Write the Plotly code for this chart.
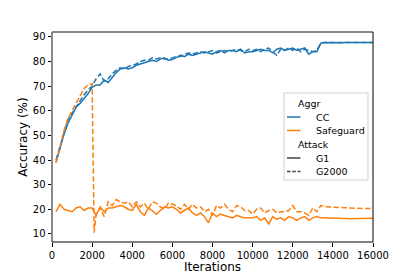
import plotly.graph_objects as go

iters = [200, 400, 600, 800, 1000, 1200, 1400, 1600, 1800, 2000,
         2200, 2400, 2600, 2800, 3000, 3200, 3400, 3600, 3800, 4000,
         4200, 4400, 4600, 4800, 5000, 5200, 5400, 5600, 5800, 6000,
         6200, 6400, 6600, 6800, 7000, 7200, 7400, 7600, 7800, 8000,
         8200, 8400, 8600, 8800, 9000, 9200, 9400, 9600, 9800, 10000,
         10200, 10400, 10600, 10800, 11000, 11200, 11400, 11600, 11800, 12000,
         12200, 12400, 12600, 12800, 13000, 13200, 13400, 13600, 13800, 14000,
         14200, 14400, 14600, 14800, 15000, 15200, 15400, 15600, 15800, 16000]

cc_g1 = [39, 45, 50.5, 55, 58, 61.5, 63, 65, 67, 69.5,
         70.5, 70.5, 72.5, 71.5, 73.5, 75.5, 77, 77.5, 77, 77.5,
         78.5, 79, 79.5, 80, 80.5, 80, 81, 81.5, 80.5, 80.8,
         81.5, 82.5, 82, 83, 82.5, 83, 83.5, 84, 83.5, 83,
         84, 84.5, 83.5, 84.5, 84.5, 84, 85, 83.5, 84, 84,
         84.5, 85, 84.5, 84.5, 83.5, 85, 85.5, 84.5, 85, 85.5,
         84.5, 85, 85.5, 83, 84, 84, 87.5, 87.7, 87.6, 87.7,
         87.7, 87.6, 87.7, 87.7, 87.6, 87.7, 87.7, 87.6, 87.7, 87.7]

cc_g2000 = [40, 46, 51, 56.5, 59, 62, 64, 66.5, 68.5, 70,
            73, 75, 72, 73, 75, 76.5, 77.5, 77, 78, 78.5,
            79, 80, 80.5, 80.5, 81.5, 81, 81.5, 81, 81, 81.5,
            82, 82, 83, 83.5, 83, 83.5, 84, 83.5, 84, 84.5,
            83.5, 84, 84.5, 84, 84.5, 85, 84.5, 84, 85, 84.5,
            85, 84, 85, 85.5, 84, 82.5, 85, 84.5, 85.5, 84.5,
            85.5, 84, 85, 84.5, 84, 84.5, 87.6, 87.7, 87.7, 87.6,
            87.7, 87.7, 87.8, 87.7, 87.7, 87.6, 87.7, 87.7, 87.7, 87.7]

sg_g1 = [19, 22, 20, 19.5, 19, 20.5, 21, 19.5, 20.5, 20.5,
         17.5, 21, 19, 20.5, 20.5, 21, 21.5, 21, 20, 19.5,
         22, 19, 17.5, 20.5, 19.5, 18, 19.5, 21, 20.5, 21,
         20, 18.5, 19.5, 20.5, 18.5, 17.5, 18.5, 17, 14.5, 18.5,
         17, 18, 17.5, 17, 16.5, 17.5, 17, 16.5, 16.5, 16.5,
         17, 15.5, 16.5, 14, 17, 16, 16.5, 15.5, 17, 16.5,
         15.5, 16.5, 17, 15.5, 16.5, 17, 16.5, 16.5, 16.5, 16.4,
         16.3, 16.3, 16.2, 16.1, 16.1, 16.2, 16.2, 16.2, 16.3, 16.3]

sg_g2000_x = iters[:10] + [2100] + iters[10:]
sg_g2000 = [39, 46, 52, 57, 60, 63, 66, 69, 70.5, 71,
            10.5,
            18, 20.5, 17, 23, 21.5, 24, 23, 22.5, 23, 21,
            23, 21, 22.5, 20, 23, 22.5, 21, 20, 22.5, 22,
            21.5, 20, 22, 20, 22, 20.5, 21, 19, 20, 17.5,
            21.5, 20.5, 22, 20, 19, 21.5, 21, 19.5, 19.5, 18,
            20, 20.5, 18.5, 19.5, 20, 18.5, 19, 19, 19.5, 21.5,
            19, 19, 18.5, 17.5, 20.5, 19, 21.5, 21, 21, 20.8,
            20.7, 20.7, 20.6, 20.5, 20.5, 20.4, 20.4, 20.3, 20.3, 20.3]

x_ticks = [0, 2000, 4000, 6000, 8000, 10000, 12000, 14000, 16000]
x_tick_text = ["0", "2000", "4000", "6000", "8000", "10000", "12000", "14000", "16000"]
y_ticks = [10, 20, 30, 40, 50, 60, 70, 80, 90]

legend_rows = [
    ("Aggr", None, None, True),
    ("CC", "#1f77b4", "solid", False),
    ("Safeguard", "#ff7f0e", "solid", False),
    ("Attack", None, None, True),
    ("G1", "#444444", "solid", False),
    ("G2000", "#444444", "dash", False),
]

BLUE = "#1f77b4"
ORANGE = "#ff7f0e"
DASH = "5.5px,2.4px"

W, H = 415, 277
ML, MR, MT, MB = 52, 42, 32, 35
PW, PH = W - ML - MR, H - MT - MB


def px(xp):
    return (xp - ML) / PW


def py(yp):
    return 1 - (yp - MT) / PH


fig = go.Figure()
series = [
    (iters, cc_g1, BLUE, "solid"),
    (iters, cc_g2000, BLUE, DASH),
    (iters, sg_g1, ORANGE, "solid"),
    (sg_g2000_x, sg_g2000, ORANGE, DASH),
]
for xs, ys, c, d in series:
    fig.add_trace(go.Scatter(x=xs, y=ys, mode="lines", showlegend=False,
                             line=dict(color=c, width=1.5, dash=d)))

shapes = [
    dict(type="line", xref="paper", yref="paper", x0=0, x1=1, y0=1, y1=1,
         line=dict(color="#888888", width=2)),
    dict(type="line", xref="paper", yref="paper", x0=0, x1=0, y0=0, y1=1,
         line=dict(color="#888888", width=2)),
    dict(type="line", xref="paper", yref="paper", x0=1, x1=1, y0=0, y1=1,
         line=dict(color="black", width=1)),
    dict(type="line", xref="paper", yref="paper", x0=0, x1=1, y0=0, y1=0,
         line=dict(color="black", width=1)),
    # legend box
    dict(type="rect", xref="paper", yref="paper", x0=px(284), x1=px(368),
         y0=py(180), y1=py(93), fillcolor="rgba(255,255,255,0.85)",
         line=dict(color="#d0d0d0", width=1), layer="above"),
]
annotations = []
row_y = [103, 117, 130.5, 144, 158, 171.5]
for (label, col, dsh, is_title), yy in zip(legend_rows, row_y):
    if is_title:
        annotations.append(dict(x=px(296), y=py(yy), xref="paper", yref="paper",
                                text=label, showarrow=False, xanchor="left",
                                yanchor="middle", font=dict(size=9.5)))
    else:
        shapes.append(dict(type="line", xref="paper", yref="paper",
                           x0=px(287), x1=px(300.5), y0=py(yy), y1=py(yy),
                           line=dict(color=col, width=1.5,
                                     dash=("solid" if dsh == "solid" else "3.5px,1.8px")),
                           layer="above"))
        annotations.append(dict(x=px(314), y=py(yy), xref="paper", yref="paper",
                                text=label, showarrow=False, xanchor="left",
                                yanchor="middle", font=dict(size=9.5)))

fig.update_layout(
    width=W, height=H,
    margin=dict(l=ML, r=MR, t=MT, b=MB),
    paper_bgcolor="white", plot_bgcolor="white",
    font=dict(family="DejaVu Sans", size=10, color="black"),
    showlegend=False,
    xaxis=dict(range=[0, 16000], tickvals=x_ticks, ticktext=x_tick_text,
               ticks="outside", ticklen=3.5, automargin=False,
               tickwidth=0.8, tickcolor="black", showgrid=False, zeroline=False,
               showline=False, title=dict(text="Iterations", standoff=3),
               tickfont=dict(size=10)),
    yaxis=dict(range=[6.7, 92.0], tickvals=y_ticks, ticks="outside", ticklen=3.5,
               automargin=False,
               tickwidth=0.8, tickcolor="black", showgrid=False, zeroline=False,
               showline=False, title=dict(text="Accuracy (%)", standoff=2),
               tickfont=dict(size=10)),
    shapes=shapes,
    annotations=annotations,
)

fig.write_html("out.html", config={"displayModeBar": False},
               post_script="document.body.style.margin='0';document.body.style.padding='0';")
